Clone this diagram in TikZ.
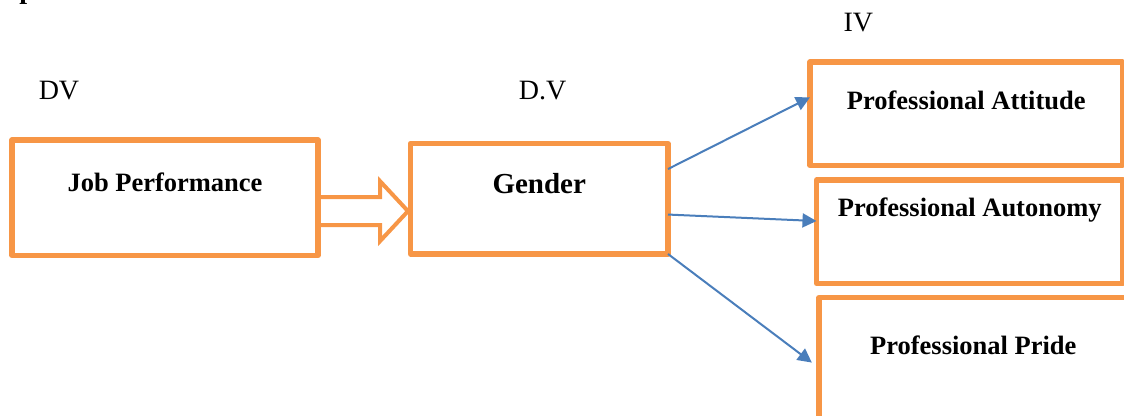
\documentclass[tikz,border=0pt]{standalone}
\usepackage{fontspec}
\setmainfont{Liberation Serif}
\usetikzlibrary{arrows.meta,shapes.arrows}
\definecolor{boxorange}{HTML}{F79646}
\definecolor{linkblue}{HTML}{4A7EBB}
\begin{document}
\begin{tikzpicture}[x=0.5pt,y=-0.5pt,
  box/.style={draw=boxorange,line width=2.6pt,line join=round,rectangle,inner sep=0pt,outer sep=0pt,anchor=north west,font=\bfseries\fontsize{13.25}{16}\selectfont},
  link/.style={draw=linkblue,line width=1pt,-{Triangle[length=7pt,width=7pt]}},
  tag/.style={inner sep=0pt,anchor=base,font=\fontsize{14}{17}\selectfont},
  hollow/.style={single arrow,draw=boxorange,line width=2pt,inner sep=6pt,outer sep=0pt,minimum height=45pt,single arrow head extend=8pt,single arrow tip angle=94,anchor=tail}]
\useasboundingbox (0,0) rectangle (1124,416);
\clip (0,0) rectangle (1124,416);
\node[inner sep=0pt,anchor=base west,font=\bfseries\fontsize{14}{17}\selectfont] (head) at (19,-1) {p};
\node[tag] (dv) at (59,99.3) {DV};
\node[tag] (dvdot) at (542.5,99.3) {D.V};
\node[tag] (iv) at (858.3,31.7) {IV};
\node[box,minimum width=153pt,text height=25.85pt,text depth=31.9pt] (job) at (12,140) {Job Performance};
\node[box,minimum width=128.75pt,text height=24.9pt,text depth=30.35pt,font=\bfseries\fontsize{14.5}{17}\selectfont] (gender) at (410.5,143.5) {Gender};
\node[box,minimum width=156.25pt,text height=23.65pt,text depth=28.1pt] (att) at (810,62) {Professional Attitude};
\node[box,minimum width=153.25pt,text height=18.35pt,text depth=33.4pt] (aut) at (816.5,180) {Professional Autonomy};
\node[box,minimum width=154.3pt,text height=28.75pt,text depth=41.75pt] (pride) at (819,297.5) {Professional Pride};
\node[hollow] (push) at (job.355.4) {};
\draw[link] (gender.13.5) -- (att.174);
\draw[link] (gender.353.7) -- (aut.176.7);
\draw[link,shorten >=4.5pt] (gender.south east) -- (pride.west);
\end{tikzpicture}
\end{document}
